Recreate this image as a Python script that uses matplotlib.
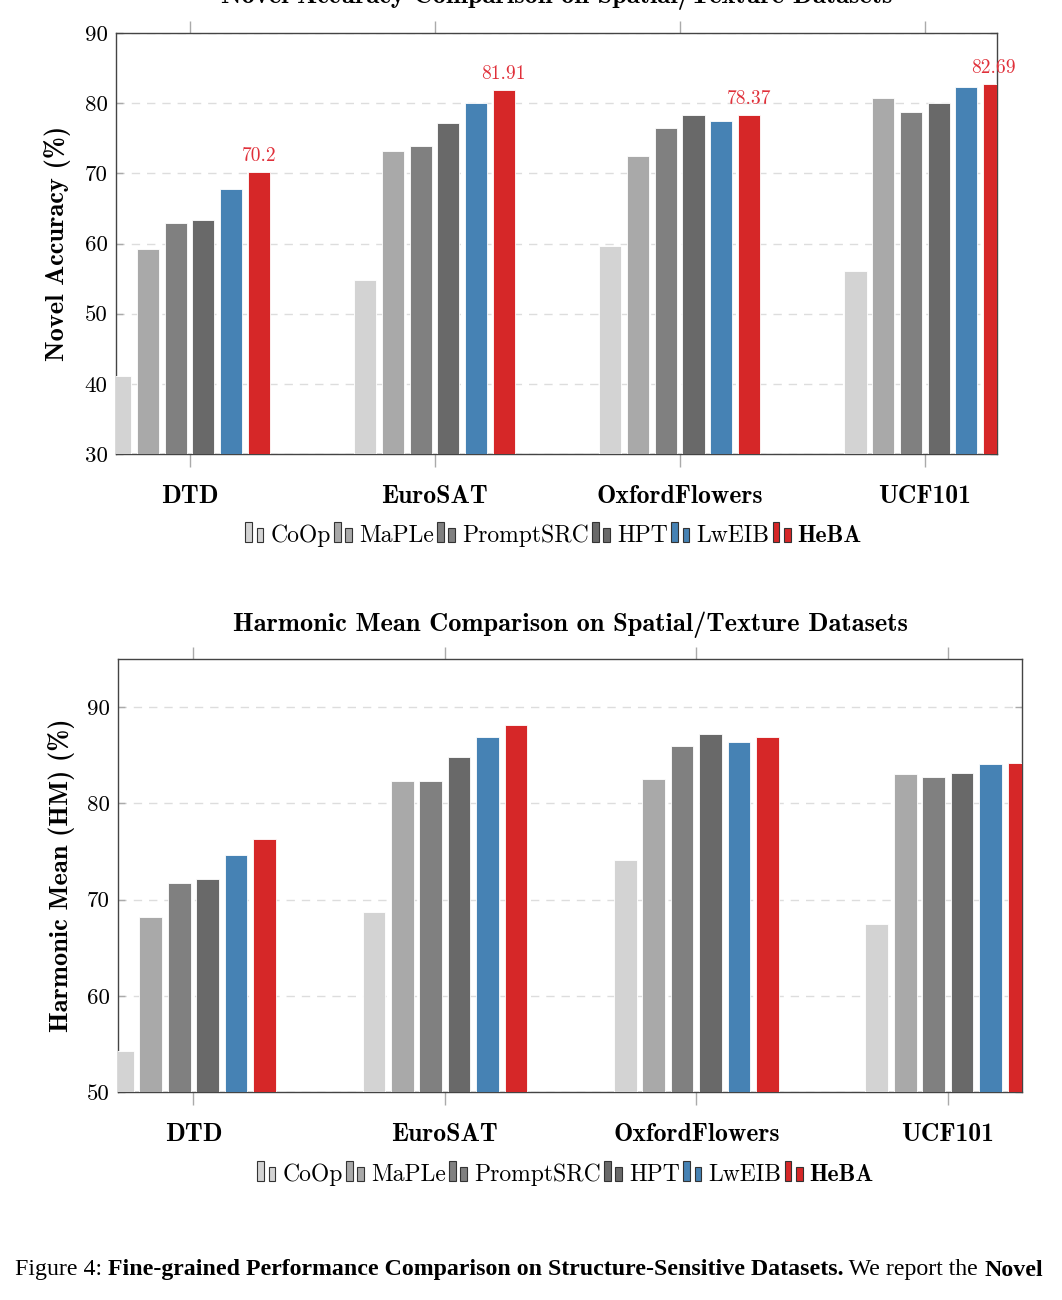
import numpy as np
import matplotlib
matplotlib.use("Agg")
import matplotlib.pyplot as plt
from matplotlib.patches import Rectangle
from matplotlib.legend_handler import HandlerBase

# --- dados ---
datasets = ["DTD", "EuroSAT", "OxfordFlowers", "UCF101"]
methods = ["CoOp", "MaPLe", "PromptSRC", "HPT", "LwEIB", "HeBA"]
colors = ["#d3d3d3", "#a9a9a9", "#808080", "#696969", "#4682b4", "#d62728"]

novel_coop = [41.18, 54.74, 59.67, 56.05]
novel_maple = [59.18, 73.23, 72.46, 80.77]
novel_promptsrc = [62.97, 73.90, 76.50, 78.80]
novel_hpt = [63.33, 77.18, 78.35, 80.04]
novel_lweib = [67.77, 80.00, 77.45, 82.30]
novel_heba = [70.2, 81.91, 78.37, 82.69]

hm_coop = [54.24, 68.69, 74.06, 67.46]
hm_maple = [68.16, 82.35, 82.56, 83.00]
hm_promptsrc = [71.75, 82.32, 85.95, 82.74]
hm_hpt = [72.15, 84.80, 87.20, 83.20]
hm_lweib = [74.60, 86.90, 86.40, 84.05]
hm_heba = [76.25, 88.15, 86.85, 84.20]

novel = [novel_coop, novel_maple, novel_promptsrc, novel_hpt, novel_lweib, novel_heba]
hm = [hm_coop, hm_maple, hm_promptsrc, hm_hpt, hm_lweib, hm_heba]

W, H = 1062, 1300
fig = plt.figure(figsize=(W / 100, H / 100), dpi=100)

RM = "cmr10"
BF = "cmb10"


class TwoBars(HandlerBase):
    # icone de legenda estilo pgfplots (duas barrinhas)
    def create_artists(self, legend, orig, xd, yd, width, height, fontsize, trans):
        fc = orig.get_facecolor()
        bw = width * 0.3
        r1 = Rectangle((xd + width * 0.05, yd - height * 0.05), bw, height * 1.05,
                       facecolor=fc, edgecolor="#333333", lw=0.8, transform=trans)
        r2 = Rectangle((xd + width * 0.55, yd - height * 0.05), bw, height * 0.75,
                       facecolor=fc, edgecolor="#333333", lw=0.8, transform=trans)
        return [r1, r2]


def draw_panel(rect, series, ylim, yticks, ylabel, label_x, title, title_y, leg_xy,
               labels=False):
    ax = fig.add_axes(rect)
    x = np.arange(len(datasets))
    step = 0.113
    handles = []
    for i, (vals, c) in enumerate(zip(series, colors)):
        b = ax.bar(x + (i - 2.5) * step, np.array(vals) - ylim[0], 0.09, bottom=ylim[0],
                   color=c, edgecolor="white", linewidth=0.6, zorder=3)
        handles.append(b[0])
        if labels and i == 5:
            for xi, v in zip(x, vals):
                ax.text(xi + (i - 2.5) * step, v + 1.0, f"{v:g}", color="#e0303a",
                        ha="center", va="bottom", fontsize=14, family=RM, zorder=4)
    ax.set_xlim(-0.30, 3.295)
    ax.set_ylim(*ylim)
    ax.set_yticks(yticks)
    ax.set_xticks(x)
    ax.set_xticklabels(datasets, fontsize=18.5, family=BF)
    for t in ax.get_yticklabels():
        t.set_fontfamily(RM)
        t.set_fontsize(16.5)
    ax.tick_params(axis="x", direction="out", length=9, color="#aaaaaa", top=True,
                   pad=13.5, width=1)
    ax.tick_params(axis="y", direction="in", length=5, color="#aaaaaa", right=True,
                   pad=6, width=1)
    ax.yaxis.grid(True, linestyle=(0, (6, 5)), color="#dddddd", linewidth=1, zorder=0)
    ax.set_axisbelow(True)
    for s in ax.spines.values():
        s.set_color("#444444")
        s.set_linewidth(1)
    ax.set_ylabel(ylabel, fontsize=19, family=BF)
    ax.yaxis.set_label_coords(label_x, 0.5)
    fig.text(rect[0] + rect[2] / 2, title_y, title, ha="center", va="center",
             fontsize=19, family=BF)
    leg = fig.legend(handles, methods, loc="center", bbox_to_anchor=leg_xy, ncol=6,
                     frameon=False, handler_map={h: TwoBars() for h in handles},
                     handlelength=0.95, handleheight=0.85, handletextpad=0.15,
                     columnspacing=0.1, prop={"family": RM, "size": 17})
    for t in leg.get_texts():
        if t.get_text() == "HeBA":
            t.set_fontfamily(BF)
    return ax


draw_panel([116 / W, 1 - 454 / H, 881 / W, 421 / H], novel, (30, 90),
           [30, 40, 50, 60, 70, 80, 90], "Novel Accuracy (%)", -0.0515,
           "Novel Accuracy Comparison on Spatial/Texture Datasets", 1 + 3 / H,
           (553 / W, 1 - 536 / H), labels=True)

draw_panel([118 / W, 1 - 1092 / H, 904 / W, 433 / H], hm, (50, 95),
           [50, 60, 70, 80, 90], "Harmonic Mean (HM) (%)", -0.0475,
           "Harmonic Mean Comparison on Spatial/Texture Datasets", 1 - 625 / H,
           (565 / W, 1 - 1175 / H))

# --- legenda da figura (caption) ---
pieces = [("Figure 4: ", "normal"),
          ("Fine-grained Performance Comparison on Structure-Sensitive Datasets.", "bold"),
          (" We report the ", "normal"),
          ("Novel", "bold")]
r = fig.canvas.get_renderer()
xpos = 15 / W
for txt, wt in pieces:
    t = fig.text(xpos, 1 - 1270 / H, txt, fontsize=17.2, family="Liberation Serif",
                 weight=wt, ha="left", va="center")
    bb = t.get_window_extent(renderer=r)
    xpos += bb.width / W

fig.savefig("out.png", dpi=100)
